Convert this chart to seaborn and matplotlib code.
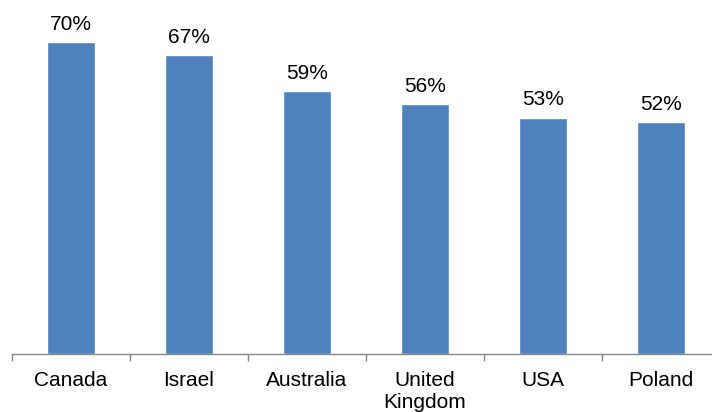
import matplotlib
matplotlib.use("Agg")
import matplotlib.pyplot as plt
import seaborn as sns
import pandas as pd
import numpy as np

countries = ["Canada", "Israel", "Australia", "United\nKingdom", "USA", "Poland"]
values = [70, 67, 59, 56, 53, 52]
value_labels = ["70%", "67%", "59%", "56%", "53%", "52%"]

sns.set_style("white")
plt.rcParams["font.family"] = ["Liberation Sans", "DejaVu Sans"]

df = pd.DataFrame({"country": countries, "value": values})

fig = plt.figure(figsize=(7.12, 4.12), dpi=100)
ax = fig.add_axes([12 / 712, 58 / 412, 708 / 712, 354 / 412])

sns.barplot(data=df, x="country", y="value", color="#4F81BD", saturation=1,
            width=0.41, ax=ax)

ax.set_xlim(-0.5, 5.5)
ax.set_ylim(0, 79.4)
ax.set_xlabel("")
ax.set_ylabel("")
ax.set_yticks([])

for s in ["top", "right", "left"]:
    ax.spines[s].set_visible(False)
ax.spines["bottom"].set_color("#868686")
ax.spines["bottom"].set_linewidth(1.0)
ax.spines["bottom"].set_clip_on(False)

ax.tick_params(axis="x", which="major", bottom=True, length=0, pad=12.5,
               labelsize=15, colors="black")
ax.set_xticks(np.arange(-0.5, 6.0, 1.0), minor=True)
ax.tick_params(axis="x", which="minor", bottom=True, length=5, width=1.0,
               color="#868686", direction="out")
for lbl in ax.get_xticklabels():
    lbl.set_linespacing(1.2)

for i, (v, t) in enumerate(zip(values, value_labels)):
    ax.annotate(t, (i, v), xytext=(0, 6), textcoords="offset points",
                ha="center", va="bottom", fontsize=15, color="black",
                annotation_clip=False)

fig.savefig("out.png", dpi=100)
